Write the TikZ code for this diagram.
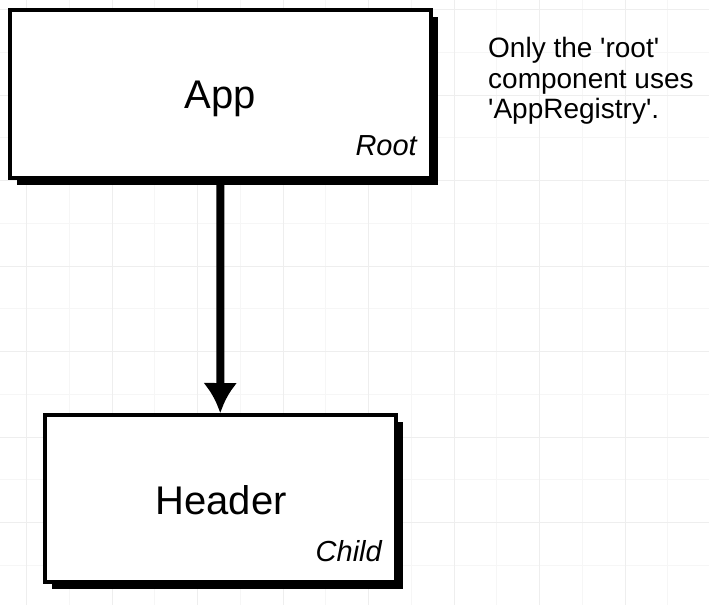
\documentclass[tikz,border=0pt]{standalone}
\usepackage{fontspec}
\setmainfont{Liberation Sans}[Ligatures=TeXOff]
\usetikzlibrary{arrows.meta,shadows}
\definecolor{gridminor}{HTML}{F6F6F6}
\definecolor{gridmajor}{HTML}{EEEEEE}
\tikzset{
  compbox/.style={draw=black, line width=4pt, fill=white, inner sep=0pt,
    general shadow={fill=black, shadow xshift=7pt, shadow yshift=-7pt}},
  bigname/.style={font=\fontsize{40}{40}\selectfont, anchor=base, inner sep=0pt},
  rolename/.style={font=\fontsize{29}{29}\selectfont\itshape, anchor=base east, inner sep=0pt},
  notetext/.style={font=\fontsize{28}{28}\selectfont, anchor=base west, inner sep=0pt},
  link/.style={line width=8pt, -{Latex[length=30pt,width=34pt]}}
}
\begin{document}
\begin{tikzpicture}[x=1pt,y=-1pt]
  % page and background grid
  \fill[white] (0,0) rectangle (709,605);
  \useasboundingbox (0,0) rectangle (709,605);
  \foreach \k in {1,3,...,15} {
    \draw[gridminor, line width=1pt] ({26.7+42.75*\k},0) -- ({26.7+42.75*\k},605);
  }
  \foreach \k in {1,3,...,13} {
    \draw[gridminor, line width=1pt] (0,{9.7+42.75*\k}) -- (709,{9.7+42.75*\k});
  }
  \foreach \k in {0,2,...,14} {
    \draw[gridmajor, line width=1.2pt] ({26.7+42.75*\k},0) -- ({26.7+42.75*\k},605);
  }
  \foreach \k in {0,2,...,12} {
    \draw[gridmajor, line width=1.2pt] (0,{9.7+42.75*\k}) -- (709,{9.7+42.75*\k});
  }

  % components
  \node[compbox, minimum width=421pt, minimum height=168pt] (app) at (220.5,94) {};
  \node[compbox, minimum width=351.5pt, minimum height=167pt] (header) at (220.25,498.5) {};

  \node[bigname] (appname) at (220,108) {App};
  \node[rolename] (approle) at (417,155) {Root};
  \node[bigname] (headername) at (221,514) {Header};
  \node[rolename] (headerrole) at (382,561.5) {Child};

  % parent to child
  \draw[link] (app.south) -- (header.north);

  % side note
  \node[notetext] (note1) at (488,57) {Only the 'root'};
  \node[notetext] (note2) at (488,88) {component uses};
  \node[notetext] (note3) at (488,118) {'AppRegistry'.};
\end{tikzpicture}
\end{document}
